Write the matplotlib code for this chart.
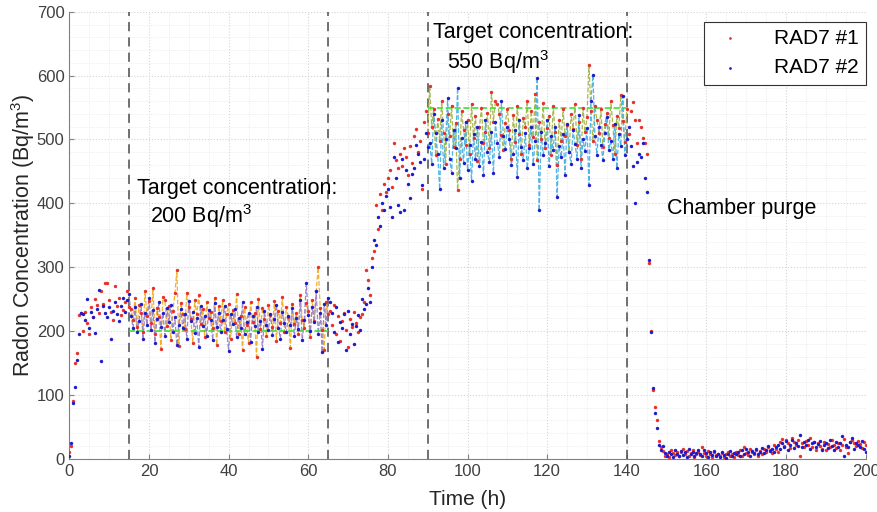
import numpy as np
import matplotlib
matplotlib.use('Agg')
import matplotlib.pyplot as plt
from matplotlib.ticker import MultipleLocator

plt.rcParams['font.family'] = ['Liberation Sans', 'DejaVu Sans']
plt.rcParams['mathtext.fontset'] = 'custom'
plt.rcParams['mathtext.rm'] = 'Liberation Sans'
plt.rcParams['mathtext.default'] = 'regular'

# readings every half hour, 0 .. 200 h
rad1 = [
    # 0 - 2 h
    10, 20, 90, 150, 165,
    # 2.5 - 15 h
    225, 228, 200, 230, 212, 195, 237, 222, 250, 241,
    228, 262, 243, 275, 276, 248, 230, 218, 270, 240,
    252, 225, 233, 245, 262, 238,
    # 15.5 - 65 h (target 200)
    235, 218, 252, 206, 241, 229, 198, 262, 224, 247,
    213, 268, 195, 236, 222, 172, 254, 248, 208, 240,
    186, 231, 259, 295, 176, 244, 227, 203, 260, 238,
    219, 182, 249, 226, 256, 211, 234, 190, 245, 221,
    230, 205, 252, 178, 239, 216, 248, 198, 227, 243,
    188, 233, 212, 258, 196, 224, 170, 237, 209, 181,
    245, 214, 228, 160, 250, 203, 236, 219, 192, 241,
    225, 206, 247, 185, 231, 213, 253, 199, 238, 222,
    174, 242, 211, 229, 196, 257, 218, 205, 244, 232,
    190, 248, 215, 263, 300, 236, 201, 171, 246, 226,
    # 65.5 - 73 h
    232, 210, 241, 196, 224, 185, 215, 228, 201, 175,
    219, 206, 230, 212, 198, 222,
    # 73.5 - 90 h (ramp up)
    226, 245, 295, 280, 256, 314, 325, 397, 360, 415,
    389, 430, 418, 439, 452, 425, 495, 468, 455, 477,
    459, 486, 472, 444, 490, 463, 505, 517, 480, 498,
    423, 527, 545, 510,
    # 90.5 - 140 h (target 550)
    583, 520, 548, 475, 532, 498, 560, 510, 462, 540,
    505, 553, 488, 526, 421, 470, 545, 515, 492, 530,
    478, 556, 503, 537, 466, 520, 549, 494, 512, 541,
    486, 575, 528, 560, 555, 540, 507, 483, 526, 548,
    515, 470, 538, 496, 552, 509, 478, 533, 520, 561,
    491, 545, 504, 572, 468, 527, 500, 557, 486, 518,
    537, 475, 552, 512, 460, 531, 498, 547, 506, 522,
    480, 540, 517, 555, 492, 528, 470, 549, 511, 535,
    617, 545, 498, 552, 530, 510, 547, 488, 525, 541,
    503, 560, 522, 478, 537, 518, 570, 529, 496, 548,
    # 140.5 - 148 h (purge)
    509, 545, 558, 530, 494, 531, 520, 503, 495, 478,
    306, 200, 108, 81, 61, 28,
    # 148.5 - 200 h
    18, 12, 5, 8, 3, 14, 9, 6, 11, 4,
    10, 15, 7, 12, 5, 9, 13, 2, 8, 11,
    6, 19, 9, 4, 12, 7, 3, 10, 6, 8,
    4, 9, 2, 7, 11, 5, 8, 3, 10, 6,
    13, 4, 18, 9, 6, 15, 11, 7, 14, 5,
    12, 8, 16, 10, 19, 13, 9, 22, 15, 11,
    26, 31, 20, 29, 24, 17, 33, 27, 21, 30,
    5, 25, 18, 28, 22, 32, 19, 26, 14, 24,
    20, 16, 27, 13, 23, 18, 29, 21, 17, 25,
    14, 22, 31, 19, 9, 26, 30, 24, 20, 28,
    23, 17, 26, 21,
]

rad2 = [
    # 0 - 2 h
    5, 25, 88, 112, 155,
    # 2.5 - 15 h
    196, 228, 226, 218, 250, 205, 230, 222, 197, 235,
    265, 153, 240, 228, 222, 238, 187, 232, 245, 226,
    215, 240, 252, 230, 248, 258,
    # 15.5 - 65 h
    224, 205, 238, 198, 216, 243, 187, 229, 210, 252,
    201, 233, 182, 219, 246, 207, 228, 193, 236, 214,
    241, 199, 222, 178, 210, 235, 204, 226, 188, 247,
    215, 230, 197, 221, 175, 239, 208, 224, 192, 233,
    218, 186, 244, 206, 229, 199, 217, 240, 203, 168,
    226, 211, 234, 190, 220, 205, 245, 196, 214, 229,
    183, 223, 208, 237, 199, 216, 172, 231, 210, 202,
    227, 194, 219, 241, 205, 188, 230, 213, 198, 224,
    209, 236, 192, 221, 203, 248, 186, 217, 275, 225,
    200, 238, 214, 262, 196, 228, 167, 243, 210, 252,
    # 65.5 - 73 h
    245, 228, 199, 238, 183, 214, 204, 226, 170, 232,
    195, 211, 180, 208, 225, 202,
    # 73.5 - 90 h
    250, 235, 242, 267, 245, 300, 342, 335, 378, 364,
    401, 390, 412, 423, 395, 378, 473, 440, 398, 386,
    469, 389, 452, 431, 409, 446, 456, 492, 477, 464,
    428, 470, 510, 488,
    # 90.5 - 140 h
    495, 462, 540, 510, 478, 422, 530, 455, 500, 565,
    470, 448, 515, 486, 581, 440, 502, 463, 528, 452,
    491, 435, 508, 470, 520, 458, 496, 444, 531, 480,
    465, 512, 448, 527, 495, 472, 560, 506, 485, 520,
    501, 460, 478, 515, 442, 530, 489, 468, 510, 455,
    487, 520, 462, 498, 597, 389, 512, 476, 494, 530,
    458, 505, 483, 520, 410, 490, 472, 508, 445, 525,
    480, 462, 515, 493, 470, 538, 455, 500, 482, 518,
    429, 560, 601, 505, 476, 520, 492, 468, 510, 535,
    484, 498, 470, 525, 455, 508, 490, 568, 475, 500,
    # 140.5 - 148 h
    520, 490, 458, 400, 464, 478, 473, 495, 440, 417,
    311, 198, 111, 72, 48, 22,
    # 148.5 - 200 h
    14, 20, 9, 4, 11, 7, 2, 13, 8, 5,
    12, 6, 10, 3, 15, 8, 11, 5, 9, 14,
    7, 4, 13, 9, 2, 10, 6, 12, 5, 8,
    3, 10, 6, 1, 8, 12, 4, 9, 7, 11,
    5, 14, 8, 16, 10, 4, 12, 9, 15, 7,
    11, 17, 9, 14, 20, 12, 16, 10, 18, 21,
    15, 24, 19, 28, 13, 22, 30, 17, 25, 20,
    37, 18, 26, 21, 29, 16, 24, 27, 19, 23,
    28, 14, 22, 25, 17, 30, 20, 13, 26, 19,
    24, 36, 4, 21, 18, 27, 33, 16, 25, 22,
    19, 28, 15, 11,
]

windows = [(15, 65), (90, 140)]
targets = [200, 550]
window_colors = [('#f2b02e', '#9a86c8'), ('#a9b84e', '#4fb4e6')]

t1 = np.arange(len(rad1)) * 0.5
t2 = np.arange(len(rad2)) * 0.5
r1 = np.array(rad1)
r2 = np.array(rad2)

fig = plt.figure(figsize=(8.78, 5.12), dpi=100)
ax = fig.add_axes((0.079, 0.104, 0.907, 0.873))

for (a, b), target, (c1, c2) in zip(windows, targets, window_colors):
    m1 = (t1 >= a) & (t1 <= b)
    m2 = (t2 >= a) & (t2 <= b)
    ax.plot(t1[m1], r1[m1], '--', color=c1, lw=0.9, zorder=2)
    ax.plot(t2[m2], r2[m2], '--', color=c2, lw=0.9, zorder=2)
    ax.plot([a, b], [target, target], '--', color='#3ee03e', lw=1.2, zorder=3)

for x in [15, 65, 90, 140]:
    ax.axvline(x, color='#4a4a4a', ls=(0, (6, 4)), lw=1.1, zorder=1)

ax.scatter(t1, r1, s=6, color='#e8302a', lw=0, zorder=4, label='RAD7 #1')
ax.scatter(t2, r2, s=6, color='#1c1ccc', lw=0, zorder=4, label='RAD7 #2')

ax.text(17, 415, 'Target concentration:', fontsize=15.5)
ax.text(20.3, 369, '200 Bq/m$^3$', fontsize=15.5)
ax.text(91.3, 659, 'Target concentration:', fontsize=15.5)
ax.text(94.9, 610, '550 Bq/m$^3$', fontsize=15.5)
ax.text(150, 383, 'Chamber purge', fontsize=15.5)

ax.set_xlim(0, 200)
ax.set_ylim(0, 700)
ax.xaxis.set_major_locator(MultipleLocator(20))
ax.yaxis.set_major_locator(MultipleLocator(100))
ax.xaxis.set_minor_locator(MultipleLocator(5))
ax.yaxis.set_minor_locator(MultipleLocator(20))
ax.grid(which='major', color='#d4d4d4', ls=':', lw=0.8)
ax.grid(which='minor', color='#e6e6e6', ls=':', lw=0.6)
ax.set_axisbelow(True)

for s in ['top', 'right']:
    ax.spines[s].set_visible(False)
for s in ['left', 'bottom']:
    ax.spines[s].set_color('#808080')
ax.tick_params(which='both', direction='in', colors='#808080', labelcolor='#404040',
               labelsize=12)
ax.tick_params(which='minor', length=0)

ax.set_xlabel('Time (h)', fontsize=15, color='#262626', labelpad=8)
ax.set_ylabel('Radon Concentration (Bq/m$^3$)', fontsize=15.5, color='#262626',
              labelpad=0)

leg = ax.legend(loc='upper right', fontsize=15, markerscale=0.8, fancybox=False,
                edgecolor='#333333', framealpha=1, borderpad=0.35, handletextpad=1.2,
                handlelength=1.8, borderaxespad=0, bbox_to_anchor=(1.0, 0.978))
leg.get_frame().set_linewidth(0.8)

fig.savefig('out.png', dpi=100)
